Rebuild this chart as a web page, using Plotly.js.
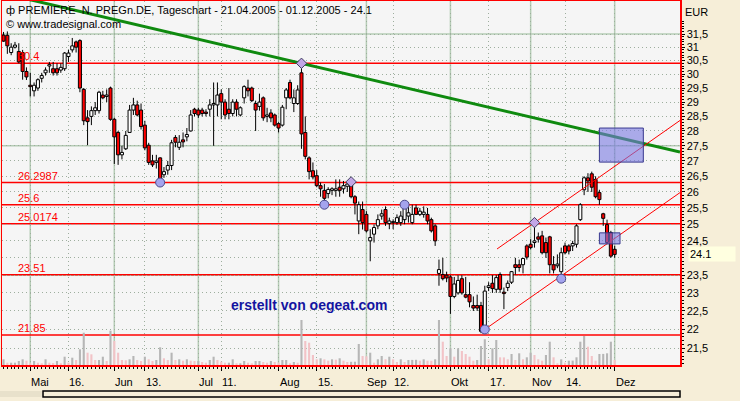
<!DOCTYPE html>
<html><head><meta charset="utf-8">
<script src="https://cdn.plot.ly/plotly-3.0.1.min.js"></script>
<style>html,body{margin:0;padding:0;background:#F6EED8;overflow:hidden}#chart{width:740px;height:401px}</style>
</head><body><div id="chart"></div>
<script>
// Trading days 21.04.2005 - 01.12.2005 (dd.mm)
const dates = [
"21.04","22.04","25.04","26.04","27.04","28.04","29.04",
"02.05","03.05","04.05","05.05","06.05","09.05","10.05","11.05","12.05","13.05","16.05","17.05","18.05","19.05","20.05","23.05","24.05","25.05","26.05","27.05","30.05","31.05",
"01.06","02.06","03.06","06.06","07.06","08.06","09.06","10.06","13.06","14.06","15.06","16.06","17.06","20.06","21.06","22.06","23.06","24.06","27.06","28.06","29.06","30.06",
"01.07","04.07","05.07","06.07","07.07","08.07","11.07","12.07","13.07","14.07","15.07","18.07","19.07","20.07","21.07","22.07","25.07","26.07","27.07","28.07","29.07",
"01.08","02.08","03.08","04.08","05.08","08.08","09.08","10.08","11.08","12.08","15.08","16.08","17.08","18.08","19.08","22.08","23.08","24.08","25.08","26.08","29.08","30.08","31.08",
"01.09","02.09","05.09","06.09","07.09","08.09","09.09","12.09","13.09","14.09","15.09","16.09","19.09","20.09","21.09","22.09","23.09","26.09","27.09","28.09","29.09","30.09",
"03.10","04.10","05.10","06.10","07.10","10.10","11.10","12.10","13.10","14.10","17.10","18.10","19.10","20.10","21.10","24.10","25.10","26.10","27.10","28.10","31.10",
"01.11","02.11","03.11","04.11","07.11","08.11","09.11","10.11","11.11","14.11","15.11","16.11","17.11","18.11","21.11","22.11","23.11","24.11","25.11","28.11","29.11","30.11",
"01.12"];

const open = [31.46,31.45,30.80,31.00,30.84,30.80,30.10,29.60,29.40,29.50,29.85,30.05,30.30,30.20,30.20,30.15,30.20,30.65,30.90,31.20,
31.25,29.45,28.45,28.50,28.70,28.70,29.25,29.20,29.50,28.40,27.95,27.20,27.40,27.95,28.72,28.90,28.72,28.20,27.52,27.00,
26.95,27.10,26.55,26.70,26.85,27.78,27.45,27.70,27.80,28.00,28.75,28.72,28.72,28.65,28.75,28.90,28.90,29.30,29.00,28.75,
28.60,29.00,28.55,29.15,29.50,29.50,28.95,28.85,29.15,28.50,28.62,28.55,28.25,28.20,29.15,29.70,28.95,28.95,30.05,27.95,
27.10,26.68,26.52,26.20,26.05,25.95,26.05,26.05,26.15,26.10,26.18,26.30,25.85,25.10,25.45,25.30,24.50,24.70,24.95,25.25,
25.45,25.02,25.05,25.05,25.05,25.14,25.25,25.05,25.50,25.30,25.30,25.30,25.14,24.95,23.55,23.52,23.50,23.45,22.90,23.00,
23.40,22.95,22.95,22.65,22.65,22.65,22.10,23.15,23.27,23.10,23.52,23.02,23.15,23.30,23.80,23.80,23.80,24.35,24.40,24.45,
24.62,24.65,24.45,24.62,23.80,23.77,23.60,24.35,24.35,24.35,24.40,25.14,26.07,26.45,26.58,26.40,25.98,25.32,24.99,24.75,
24.25];
const high = [31.58,31.60,31.15,31.20,31.15,30.90,30.25,30.05,29.70,29.85,30.05,30.25,30.45,30.45,30.40,30.40,30.82,30.90,31.35,31.25,
31.30,29.50,28.72,28.85,29.00,29.40,29.40,29.45,29.55,28.45,28.00,27.50,28.00,28.90,29.15,29.05,28.95,28.35,27.60,27.20,
27.20,27.12,26.80,27.00,27.70,27.86,27.86,27.95,28.10,28.72,28.80,28.80,28.80,28.75,29.10,29.70,29.70,29.45,29.10,29.50,
29.10,29.10,28.85,29.60,29.80,29.55,29.05,29.30,29.20,28.80,28.75,28.60,28.30,28.90,29.50,29.80,29.45,29.60,30.40,28.50,
27.15,26.95,26.70,26.30,26.25,26.15,26.15,26.40,26.40,26.35,26.30,26.32,25.90,25.70,25.70,25.40,24.85,24.99,25.30,25.45,
25.55,25.20,25.15,25.30,25.40,25.60,25.60,25.60,25.60,25.50,25.55,25.50,25.20,25.00,23.95,24.00,23.60,23.50,23.45,23.50,
23.50,23.45,23.30,22.90,22.95,22.75,23.20,23.30,23.50,23.50,23.58,23.15,23.35,23.62,24.00,23.95,24.00,24.40,24.55,25.05,
24.75,24.80,24.60,24.65,24.05,24.10,24.30,24.45,24.40,24.50,25.00,25.65,26.50,26.60,26.65,26.50,26.07,25.35,25.14,24.80,
24.35];
const low = [31.20,30.75,30.70,30.95,30.40,29.80,29.79,29.20,29.20,29.40,29.70,29.95,30.05,29.95,29.95,30.05,30.12,30.45,30.80,30.80,
29.35,28.20,27.52,28.20,28.55,28.60,29.10,29.00,28.35,26.90,26.87,27.05,27.36,27.95,28.55,28.50,28.05,27.35,26.87,26.80,
26.75,26.30,26.45,26.55,26.70,27.45,27.36,27.45,27.65,27.98,28.50,28.45,28.50,28.50,28.50,27.50,28.50,28.40,28.40,28.40,
28.50,28.50,28.50,28.95,29.20,29.00,28.00,28.70,28.35,28.30,28.30,28.15,27.95,28.15,28.75,29.10,28.65,28.90,27.40,27.05,
26.40,26.40,26.15,25.85,25.60,25.80,25.90,25.85,25.85,25.95,26.00,25.80,25.30,24.70,24.84,24.75,23.90,24.45,24.85,25.14,
24.95,24.85,24.85,24.98,24.95,25.00,25.05,25.00,25.28,25.25,25.20,25.00,24.75,24.35,23.20,23.35,23.30,22.42,22.85,22.95,
22.95,22.85,22.60,22.50,22.50,21.90,21.97,23.05,23.00,23.00,23.00,22.55,23.05,23.25,23.52,23.60,23.55,23.95,24.25,24.30,
24.45,24.10,24.00,23.55,23.55,23.70,23.40,24.10,24.10,24.20,24.30,25.10,25.90,26.00,26.00,25.80,25.60,24.95,24.40,24.00,
24.00];
const close = [31.23,31.05,31.00,31.08,30.45,30.10,29.90,29.55,29.60,29.80,29.95,30.15,30.35,30.05,30.05,30.25,30.78,30.78,31.05,31.00,
29.50,28.35,28.32,28.70,28.80,29.35,29.15,29.25,28.40,27.80,27.20,27.28,27.85,28.72,28.90,28.55,28.15,27.43,26.95,26.87,
27.00,26.39,26.65,26.85,27.60,27.62,27.62,27.63,27.88,28.55,28.60,28.55,28.60,28.60,28.90,28.95,29.25,29.00,28.55,28.60,
29.00,28.75,28.80,29.55,29.40,29.05,28.72,29.00,28.45,28.55,28.45,28.20,28.10,28.82,29.43,29.15,29.15,29.43,27.90,27.15,
26.65,26.48,26.20,26.10,25.80,26.08,26.10,26.10,26.05,26.20,26.25,25.85,25.65,25.60,25.05,24.80,24.60,24.90,25.14,25.32,
25.05,25.10,25.08,25.20,25.25,25.50,25.35,25.30,25.30,25.40,25.37,25.10,24.80,24.50,23.66,23.40,23.42,22.90,23.25,23.35,
23.00,22.88,22.75,22.58,22.58,21.95,23.05,23.20,23.12,23.43,23.10,22.98,23.27,23.60,23.72,23.72,23.98,24.02,24.30,24.50,
24.55,24.15,24.15,23.80,23.65,23.82,24.15,24.15,24.20,24.42,24.95,25.60,26.45,26.35,26.15,25.85,25.76,25.18,24.45,24.05,
24.10];
// volume (thousand shares)
const volume = [57,23,23,23,40,57,43,17,40,23,17,57,23,20,40,17,83,23,73,50,
157,323,123,107,50,50,83,40,343,240,123,50,47,57,90,50,40,83,57,40,
50,177,67,50,123,50,57,43,57,43,40,40,30,23,50,83,50,33,23,23,
57,17,17,40,23,17,40,40,30,23,40,30,23,50,50,17,30,23,450,240,
223,100,57,67,57,43,57,53,67,43,30,32,33,210,90,87,123,23,57,90,
57,83,57,30,57,30,50,51,52,43,57,43,42,57,450,233,90,167,83,167,
140,110,83,43,50,190,257,57,167,250,77,76,57,110,50,117,57,77,123,100,
57,43,100,233,77,17,57,23,43,44,77,233,290,183,90,43,110,111,117,233,
50];

const tickDates  = ["02.05","16.05","01.06","13.06","01.07","11.07","01.08","15.08","01.09","12.09","03.10","17.10","01.11","14.11","01.12"];
const tickLabels = ["Mai","16.","Jun","13.","Jul","11.","Aug","15.","Sep","12.","Okt","17.","Nov","14.","Dez"];

const priceTicks = [21.5,22,22.5,23,23.5,24,24.5,25,25.5,26,26.5,27,27.5,28,28.5,29,29.5,30,30.5,31,31.5];
const priceTickLabels = ["21,5","22","22,5","23","23,5","24","24,5","25","25,5","26","26,5","27","27,5","28","28,5","29","29,5","30","30,5","31","31,5"];

const levelValues = [30.4, 26.2987, 25.6, 25.0174, 23.51, 21.85];
const levelLabels = ["30.4","26.2987","25.6","25.0174","23.51","21.85"];

const circleDates  = ["17.06","17.08","15.09","14.10","11.11"];
const circleValues = [26.30, 25.60, 25.60, 22.00, 23.40];
const diamondDates  = ["09.08","26.08","02.11"];
const diamondValues = [30.40, 26.32, 25.05];

// drawn lines: trading-day index, price
const trendX = [0, 177.1],    trendY = [33.09, 27.29];
const lowChX = [126, 177.1],  lowChY = [22.00, 25.98];
const upChX  = [129.2, 177.1], upChY = [24.26, 28.36];
const boxX0 = [156.0, 156.0], boxX1 = [167.5, 161.4], boxY0 = [26.96, 24.41], boxY1 = [28.10, 24.74];
const lastPrice = 24.1;

const idx = d => dates.indexOf(d);
const x = dates.map((d, i) => i);
const volColors = volume.map((v, i) => (i === 0 || v >= volume[i - 1]) ? '#B6B6B6' : '#F2C3C7');
const tickIdx = tickDates.map(idx);
const minorY = [];
for (let k = 211; k <= 320; k++) minorY.push(k / 10);
const shownTickLabels = priceTickLabels.map((t, k) => Math.abs(priceTicks[k] - lastPrice) < 0.25 ? '' : t);

// candle bodies (bars) and wicks (line segments) derived from OHLC
const bodyBase = x.map(i => Math.min(open[i], close[i]));
const bodyLen  = x.map(i => Math.max(Math.abs(close[i] - open[i]), 0.02));
const bodyFill = x.map(i => close[i] >= open[i] ? '#FFFFFF' : '#FF0000');
const wickX = [], wickY = [];
x.forEach(i => {
  const top = Math.max(open[i], close[i]), bot = Math.min(open[i], close[i]);
  if (high[i] > top) { wickX.push(i, i, null); wickY.push(high[i], top, null); }
  if (low[i] < bot)  { wickX.push(i, i, null); wickY.push(bot, low[i], null); }
});

const FONT = 'Liberation Sans, Arial, sans-serif';

const traces = [
  { type: 'bar', x: x, y: volume, yaxis: 'y2', width: 0.55,
    marker: { color: volColors, line: { width: 0 } }, hoverinfo: 'skip' },
  { type: 'bar', x: x, y: bodyLen, base: bodyBase, width: 0.8,
    marker: { color: bodyFill, line: { color: '#000000', width: 1 } }, hoverinfo: 'skip' },
  { type: 'scatter', mode: 'lines', x: wickX, y: wickY, connectgaps: false,
    line: { color: '#000000', width: 1 }, hoverinfo: 'skip' },
  { type: 'scatter', mode: 'lines', x: trendX, y: trendY,
    line: { color: '#0F8A0F', width: 3 }, hoverinfo: 'skip' },
  { type: 'scatter', mode: 'lines', x: lowChX, y: lowChY,
    line: { color: '#FF0000', width: 1 }, hoverinfo: 'skip' },
  { type: 'scatter', mode: 'lines', x: upChX, y: upChY,
    line: { color: '#FF0000', width: 1 }, hoverinfo: 'skip' },
  { type: 'scatter', mode: 'markers', x: circleDates.map(idx), y: circleValues,
    marker: { symbol: 'circle', size: 9, color: '#A4A4EE', line: { color: '#4A4A8C', width: 1 } }, hoverinfo: 'skip' },
  { type: 'scatter', mode: 'markers', x: diamondDates.map(idx), y: diamondValues,
    marker: { symbol: 'diamond', size: 8, color: '#C2A6E6', line: { color: '#404060', width: 1 } }, hoverinfo: 'skip' }
];

const shapes = [];
[31.5, 27.5, 23.5].forEach(v => shapes.push({ type: 'line', layer: 'between', xref: 'paper', x0: 0, x1: 1, yref: 'y', y0: v, y1: v,
  line: { color: '#B5CCB5', width: 1.5 } }));
tickLabels.forEach((t, k) => { if (!t.endsWith('.')) shapes.push({ type: 'line', layer: 'between', xref: 'x', x0: tickIdx[k], x1: tickIdx[k],
  yref: 'paper', y0: 0, y1: 1, line: { color: '#B5CCB5', width: 1.5 } }); });
levelValues.forEach(v => shapes.push({ type: 'line', layer: 'between', xref: 'paper', x0: 0, x1: 1, yref: 'y', y0: v, y1: v,
  line: { color: '#FF0000', width: 1.5 } }));
boxX0.forEach((b, k) => shapes.push({ type: 'rect', layer: 'above', xref: 'x', yref: 'y', x0: boxX0[k], x1: boxX1[k], y0: boxY0[k], y1: boxY1[k],
  fillcolor: 'rgba(120,120,225,0.6)', line: { color: '#3A3A90', width: 1 } }));
// scrollbar
shapes.push({ type: 'rect', layer: 'above', xref: 'paper', yref: 'paper', x0: -0.003, x1: 0.0605, y0: -0.0714, y1: -0.0879,
  fillcolor: '#E8E1CB', line: { width: 0 } });
shapes.push({ type: 'rect', layer: 'above', xref: 'paper', yref: 'paper', x0: 0.0605, x1: 1.0, y0: -0.0714, y1: -0.0879,
  fillcolor: 'rgba(0,0,0,0)', line: { color: '#000000', width: 1.5 } });

const annotations = [
  { xref: 'paper', yref: 'paper', x: 0, y: 1, xanchor: 'left', yanchor: 'top', xshift: 2, yshift: -1, showarrow: false,
    text: 'ф PREMIERE  N. PREGn.DE, Tageschart - 21.04.2005 - 01.12.2005 - 24.1', font: { family: FONT, size: 11, color: '#000' } },
  { xref: 'paper', yref: 'paper', x: 0, y: 1, xanchor: 'left', yanchor: 'top', xshift: 2, yshift: -15, showarrow: false,
    text: '© www.tradesignal.com', font: { family: FONT, size: 11, color: '#000' } },
  { xref: 'paper', yref: 'paper', x: 1, y: 1, xanchor: 'left', yanchor: 'top', xshift: 3, yshift: -3, showarrow: false,
    text: 'EUR', font: { family: FONT, size: 11, color: '#000' } },
  { xref: 'paper', yref: 'y', x: 1, y: Math.log10(lastPrice), xanchor: 'left', yanchor: 'middle', xshift: 8, showarrow: false,
    text: String(lastPrice), width: 44, align: 'left', bgcolor: '#FFFFE0', borderpad: 1,
    font: { family: FONT, size: 11, color: '#000' } },
  { xref: 'paper', yref: 'paper', x: 0.4528, y: 0.1648, xanchor: 'center', yanchor: 'middle', showarrow: false,
    text: '<b>erstellt von oegeat.com</b>', font: { family: FONT, size: 14, color: '#1414A0' } }
];
levelValues.forEach((v, k) => annotations.push({ xref: 'x', yref: 'y', x: 3.3, y: Math.log10(v), xanchor: 'left', yanchor: 'bottom',
  yshift: -1, showarrow: false, text: levelLabels[k], font: { family: FONT, size: 11, color: '#FF0000' } }));
tickLabels.forEach((t, k) => annotations.push({ xref: 'x', yref: 'paper', x: tickIdx[k], y: 0, xanchor: 'left', yanchor: 'top',
  xshift: -1, yshift: -9, showarrow: false, text: t, font: { family: FONT, size: 11, color: '#000' } }));

const layout = {
  width: 740, height: 401,
  margin: { l: 2, r: 60, t: 1, b: 36 },
  paper_bgcolor: '#F6EED8', plot_bgcolor: '#F5F5F5',
  showlegend: false, hovermode: false, dragmode: false,
  barmode: 'overlay',
  font: { family: FONT, size: 11, color: '#000' },
  xaxis: { type: 'linear', range: [-0.4, 177.1], showline: true, linecolor: '#FF0000', linewidth: 1.5, mirror: true,
    zeroline: false, tickmode: 'array', tickvals: tickIdx, showticklabels: false,
    ticks: 'outside', ticklen: 4, tickcolor: '#000', tickwidth: 1,
    showgrid: true, gridcolor: '#9EAE9E', griddash: '1px,3px', gridwidth: 1,
    minor: { tickmode: 'array', tickvals: x, ticks: 'outside', ticklen: 2, tickcolor: '#000', tickwidth: 1, showgrid: false },
    fixedrange: true },
  yaxis: { type: 'log', range: [Math.log10(21.07), Math.log10(32.79)], side: 'right',
    showline: true, linecolor: '#FF0000', linewidth: 1.5, mirror: true, zeroline: false,
    tickmode: 'array', tickvals: priceTicks, ticktext: shownTickLabels,
    ticks: 'outside', ticklen: 3, tickcolor: '#000', tickwidth: 1,
    showgrid: true, gridcolor: '#9EAE9E', griddash: '1px,3px', gridwidth: 1,
    minor: { tickmode: 'array', tickvals: minorY, ticks: 'outside', ticklen: 2, tickcolor: '#000', tickwidth: 1, showgrid: false },
    tickfont: { family: FONT, size: 11, color: '#000' }, fixedrange: true },
  yaxis2: { overlaying: 'y', range: [0, 3640], visible: false, fixedrange: true },
  shapes: shapes,
  annotations: annotations
};

Plotly.newPlot('chart', traces, layout, { staticPlot: true, displayModeBar: false });
</script>
</body></html>
